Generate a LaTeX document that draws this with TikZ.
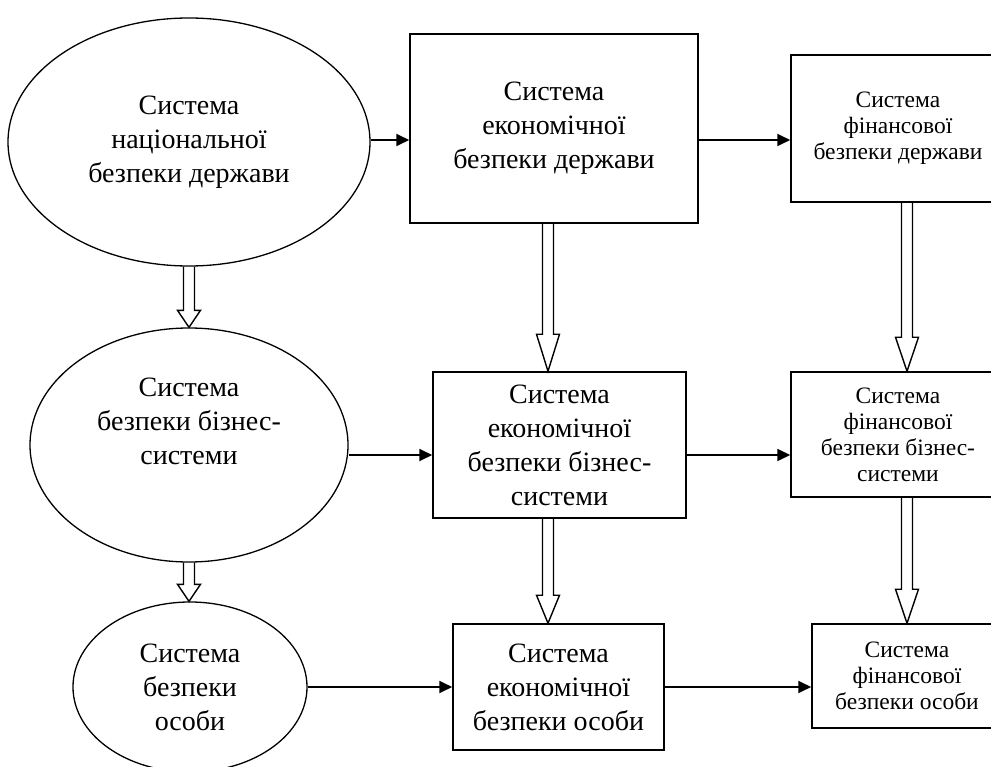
\documentclass[tikz,border=0pt]{standalone}
\usepackage{fontspec}
\setmainfont{Liberation Serif}
\usetikzlibrary{arrows.meta,calc,shapes.geometric}

% hollow down arrow: #1 start, #2 target (tip on its y), #3 head length
\newcommand{\hollowarr}[3]{%
  \path (#1) coordinate (ha-a) (#1 |- #2) coordinate (ha-b);
  \draw[hollow] ($(ha-a)+(-5.5,0)$) -- ($(ha-b)+(-5.5,-#3)$) -- ($(ha-b)+(-11.5,-#3)$)
    -- (ha-b) -- ($(ha-b)+(11.5,-#3)$) -- ($(ha-b)+(5.5,-#3)$) -- ($(ha-a)+(5.5,0)$);}

\begin{document}
\begin{tikzpicture}[x=1pt, y=-1pt, >={Triangle[length=13pt,width=12pt]},
  oval/.style={ellipse, draw, line width=1.3pt, inner sep=0pt, align=center},
  blk/.style={rectangle, draw, line width=1.5pt, inner sep=0pt, align=center},
  bigtxt/.style={font=\fontsize{28}{34}\selectfont, align=center},
  smalltxt/.style={font=\fontsize{23.5}{26}\selectfont, align=center},
  ar/.style={->, line width=1.8pt},
  hollow/.style={line width=1.4pt, line join=miter}]
  \useasboundingbox (0,0) rectangle (991,767);
  \clip (0,0) rectangle (991,767);

  % left column: ellipses
  \node[oval, bigtxt, minimum width=362, minimum height=248] (nat) at (189,142)
    {Система\\національної\\безпеки держави};
  \node[oval, minimum width=318, minimum height=234] (bus) at (189,445) {};
  \node[bigtxt] (busT) at (189,421) {Система\\безпеки бізнес-\\системи};
  \node[oval, bigtxt, minimum width=234, minimum height=170] (per) at (190,687)
    {Система\\безпеки\\особи};

  % middle column: economic security
  \node[blk, bigtxt, minimum width=288, minimum height=189] (ecS) at (554,128.5)
    {Система\\економічної\\безпеки держави};
  \node[blk, bigtxt, minimum width=253, minimum height=146] (ecB) at (559.5,445)
    {Система\\економічної\\безпеки бізнес-\\системи};
  \node[blk, bigtxt, minimum width=211, minimum height=126] (ecP) at (558.5,687)
    {Система\\економічної\\безпеки особи};

  % right column: financial security
  \node[blk, smalltxt, minimum width=214, minimum height=147] (fnS) at (898,128.5)
    {Система\\фінансової\\безпеки держави};
  \node[blk, smalltxt, minimum width=214, minimum height=125] (fnB) at (898,434.5)
    {Система\\фінансової\\безпеки бізнес-\\системи};
  \node[blk, smalltxt, minimum width=190, minimum height=104] (fnP) at (907,676)
    {Система\\фінансової\\безпеки особи};

  % horizontal links
  \coordinate (r1) at ($(nat.east)+(0,-2)$);
  \coordinate (r2) at ($(bus.east)+(0,10)$);
  \draw[ar] (r1) -- (r1 -| ecS.west);
  \draw[ar] (r1 -| ecS.east) -- (r1 -| fnS.west);
  \draw[ar] (r2) -- (r2 -| ecB.west);
  \draw[ar] (r2 -| ecB.east) -- (r2 -| fnB.west);
  \draw[ar] (per.east) -- (per.east -| ecP.west);
  \draw[ar] (ecP.east) -- (ecP.east -| fnP.west);

  % vertical hollow arrows
  \coordinate (c2a) at ($(ecS.south)+(-6,0)$);
  \coordinate (c2b) at ($(ecB.south)+(-11.5,0)$);
  \coordinate (c3a) at (fnS.south -| fnP.north);
  \coordinate (c3b) at (fnB.south -| fnP.north);
  \hollowarr{nat.south}{bus.north}{17}
  \hollowarr{bus.south}{per.north}{17}
  \hollowarr{c2a}{ecB.north}{37}
  \hollowarr{c2b}{ecP.north}{28}
  \hollowarr{c3a}{fnB.north}{34}
  \hollowarr{c3b}{fnP.north}{34}
\end{tikzpicture}
\end{document}
